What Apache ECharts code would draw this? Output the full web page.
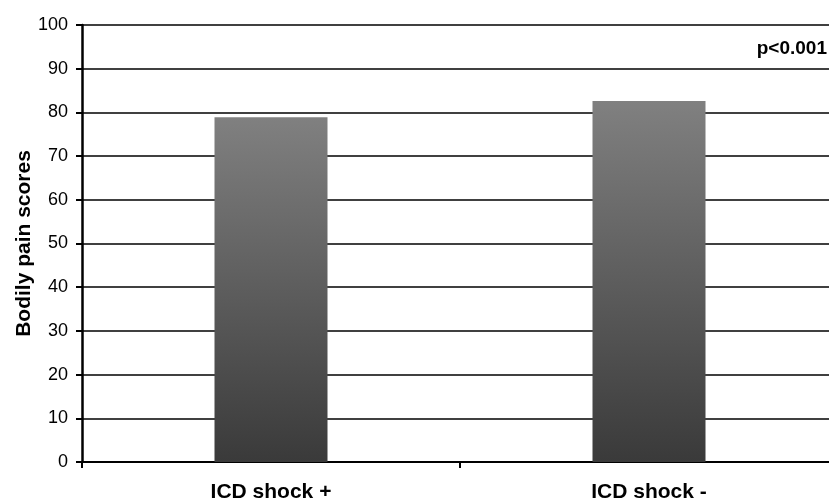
<!DOCTYPE html>
<html><head><meta charset="utf-8">
<script src="https://cdn.jsdelivr.net/npm/echarts@6/dist/echarts.min.js"></script>
<style>html,body{margin:0;padding:0;background:#fff}#c{width:829px;height:503px}</style>
</head><body><div id="c"></div>
<script>
const categories = ["ICD shock +", "ICD shock -"];
const painScores = [78.9, 82.6];
const yTicks = [0, 100, 10];
const note = "p<0.001";

const FONT = 'Arial, "Liberation Sans", sans-serif';
const chart = echarts.init(document.getElementById('c'));
chart.setOption({
  animation: false,
  backgroundColor: '#fff',
  grid: {left: 82, top: 25, bottom: 41, width: 756, containLabel: false, outerBoundsMode: 'none'},
  graphic: [{
    type: 'text', right: 2, top: 39,
    style: {text: note, font: 'bold 19px ' + FONT, fill: '#000'}
  }],
  xAxis: {
    type: 'category', data: categories,
    axisLine: {lineStyle: {color: '#000', width: 2}},
    axisTick: {show: true, length: 6, lineStyle: {color: '#000', width: 2}},
    axisLabel: {margin: 20, color: '#000', fontFamily: FONT, fontWeight: 'bold', fontSize: 21}
  },
  yAxis: {
    type: 'value', min: yTicks[0], max: yTicks[1], interval: yTicks[2],
    name: 'Bodily pain scores', nameLocation: 'middle', nameGap: 47, nameMoveOverlap: false,
    nameTextStyle: {color: '#000', fontFamily: FONT, fontWeight: 'bold', fontSize: 21},
    axisLine: {show: true, lineStyle: {color: '#000', width: 2.5}},
    axisTick: {show: true, length: 6, lineStyle: {color: '#000', width: 2}},
    axisLabel: {margin: 14, color: '#000', fontFamily: FONT, fontSize: 18},
    splitLine: {show: true, lineStyle: {color: '#000', width: 1.5}}
  },
  series: [{
    type: 'bar', data: painScores, barWidth: 113,
    itemStyle: {color: new echarts.graphic.LinearGradient(0, 0, 0, 1, [
      {offset: 0, color: '#808080'}, {offset: 1, color: '#3a3a3a'}])}
  }]
});
</script></body></html>
